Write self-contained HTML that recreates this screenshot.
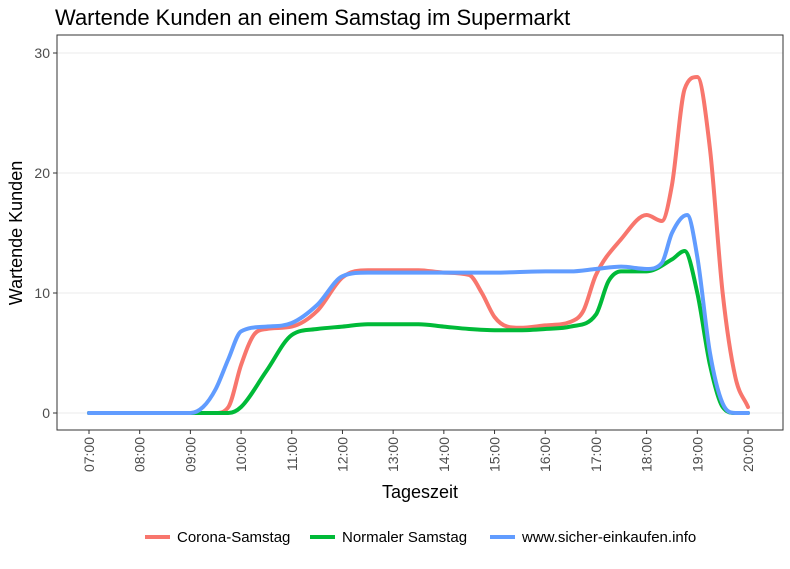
<!DOCTYPE html>
<html><head><meta charset="utf-8"><style>
body{margin:0;background:#fff;}
svg text{font-family:"Liberation Sans",sans-serif;}
</style></head><body>
<svg id="chart" width="790" height="564" xmlns="http://www.w3.org/2000/svg">
<text x="55" y="25" font-size="22" fill="#000">Wartende Kunden an einem Samstag im Supermarkt</text>
<g id="grid"></g>
<g id="lines"></g>
<rect x="57" y="35" width="726" height="395" fill="none" stroke="#333" stroke-width="1"/>
<g id="axes"></g>
<text transform="translate(22,233) rotate(-90)" text-anchor="middle" font-size="18">Wartende Kunden</text>
<text x="420" y="498" text-anchor="middle" font-size="18">Tageszeit</text>
<g id="legend"></g>
</svg>
<script>
const hoursTicks=[7,8,9,10,11,12,13,14,15,16,17,18,19,20];
const yTicks=[0,10,20,30];
const seriesNames=["Corona-Samstag","Normaler Samstag","www.sicher-einkaufen.info"];
const seriesColors=["#F8766D","#00BA38","#619CFF"];
const coronaX=[7,8,9,9.5,9.75,10,10.25,10.5,11,11.5,12,12.5,13,13.5,14,14.5,14.75,15,15.25,15.5,16,16.5,16.75,17,17.5,18,18.3,18.5,18.75,19,19.25,19.5,19.75,20];
const coronaY=[0,0,0,0,0.5,4,6.5,7,7.2,8.5,11.3,11.9,11.9,11.9,11.7,11.5,10,8,7.2,7.1,7.3,7.6,8.5,11.5,14.5,16.5,16,19,27,28,22,10,3,0.5];
const normalX=[7,8,9,9.75,10,10.5,11,11.5,12,12.5,13,13.5,14,14.5,15,15.5,16,16.5,17,17.25,17.5,18,18.5,18.75,19,19.25,19.5,19.75,20];
const normalY=[0,0,0,0,0.5,3.5,6.5,7,7.2,7.4,7.4,7.4,7.2,7.0,6.9,6.9,7.0,7.2,8.2,11,11.8,11.8,12.8,13.5,10,4,0.5,0,0];
const sicherX=[7,8,9,9.25,9.5,9.75,10,10.5,11,11.5,12,12.5,13,13.5,14,15,16,16.5,17,17.5,18,18.3,18.5,18.8,19,19.25,19.5,19.75,20];
const sicherY=[0,0,0,0.5,2,4.5,6.8,7.2,7.5,9,11.4,11.7,11.7,11.7,11.7,11.7,11.8,11.8,12,12.2,12,12.5,15,16.5,13,5,0.8,0,0];
const xs=h=>89+(h-7)*(748-89)/13;
const ys=v=>413-v*(413-293)/10;
const NS="http://www.w3.org/2000/svg";
function mk(t,a,p){const e=document.createElementNS(NS,t);for(const k in a)e.setAttribute(k,a[k]);p.appendChild(e);return e;}
const grid=document.getElementById('grid'),axes=document.getElementById('axes');
yTicks.forEach(v=>{
 const g=mk('line',{x1:57,x2:783,y1:ys(v),y2:ys(v),stroke:'#ebebeb','stroke-width':1},grid);
 
 
 const t=mk('line',{x1:53,x2:57,y1:ys(v),y2:ys(v),stroke:'#333'},axes);
 
 
 const l=mk('text',{x:50,y:ys(v)+5,'text-anchor':'end','font-size':14,fill:'#4d4d4d'},axes);
 l.textContent=v;
 
 
});
hoursTicks.forEach(h=>{
 const t=mk('line',{x1:xs(h),x2:xs(h),y1:430,y2:434,stroke:'#333'},axes);
 
 
 const l=mk('text',{transform:`translate(${xs(h)+5},437) rotate(-90)`,'text-anchor':'end','font-size':14,fill:'#4d4d4d'},axes);
 l.textContent=(h<10?'0':'')+h+':00';
 
 
});
function monoPath(X,Y){
 const n=X.length,d=[],m=[];
 for(let i=0;i<n-1;i++)d.push((Y[i+1]-Y[i])/(X[i+1]-X[i]));
 m[0]=d[0];m[n-1]=d[n-2];
 for(let i=1;i<n-1;i++){m[i]=(d[i-1]*d[i]<=0)?0:(d[i-1]+d[i])/2;}
 for(let i=0;i<n-1;i++){if(d[i]===0){m[i]=0;m[i+1]=0;continue;}const a=m[i]/d[i],b=m[i+1]/d[i],s=a*a+b*b;if(s>9){const t=3/Math.sqrt(s);m[i]=t*a*d[i];m[i+1]=t*b*d[i];}}
 let p=`M${xs(X[0])},${ys(Y[0])}`;
 for(let i=0;i<n-1;i++){const h=X[i+1]-X[i];
  p+=` C${xs(X[i]+h/3)},${ys(Y[i]+m[i]*h/3)} ${xs(X[i+1]-h/3)},${ys(Y[i+1]-m[i+1]*h/3)} ${xs(X[i+1])},${ys(Y[i+1])}`;}
 return p;
}
const lines=document.getElementById('lines');
const data=[[coronaX,coronaY],[normalX,normalY],[sicherX,sicherY]];
const lineNames=['line-corona-samstag','line-normaler-samstag','line-sicher-einkaufen'];
data.forEach((s,i)=>{
 const p=mk('path',{d:monoPath(s[0],s[1]),fill:'none',stroke:seriesColors[i],'stroke-width':4,'stroke-linecap':'round','stroke-linejoin':'round'},lines);
 
 
});
const legend=document.getElementById('legend');
const lx=[145,310,490];
seriesNames.forEach((n,i)=>{
 const g=mk('g',{},legend);
 
 
 mk('line',{x1:lx[i],x2:lx[i]+25,y1:537,y2:537,stroke:seriesColors[i],'stroke-width':4},g);
 const t=mk('text',{x:lx[i]+32,y:542,'font-size':15,fill:'#000'},g);
 t.textContent=n;
});
</script>
</body></html>
